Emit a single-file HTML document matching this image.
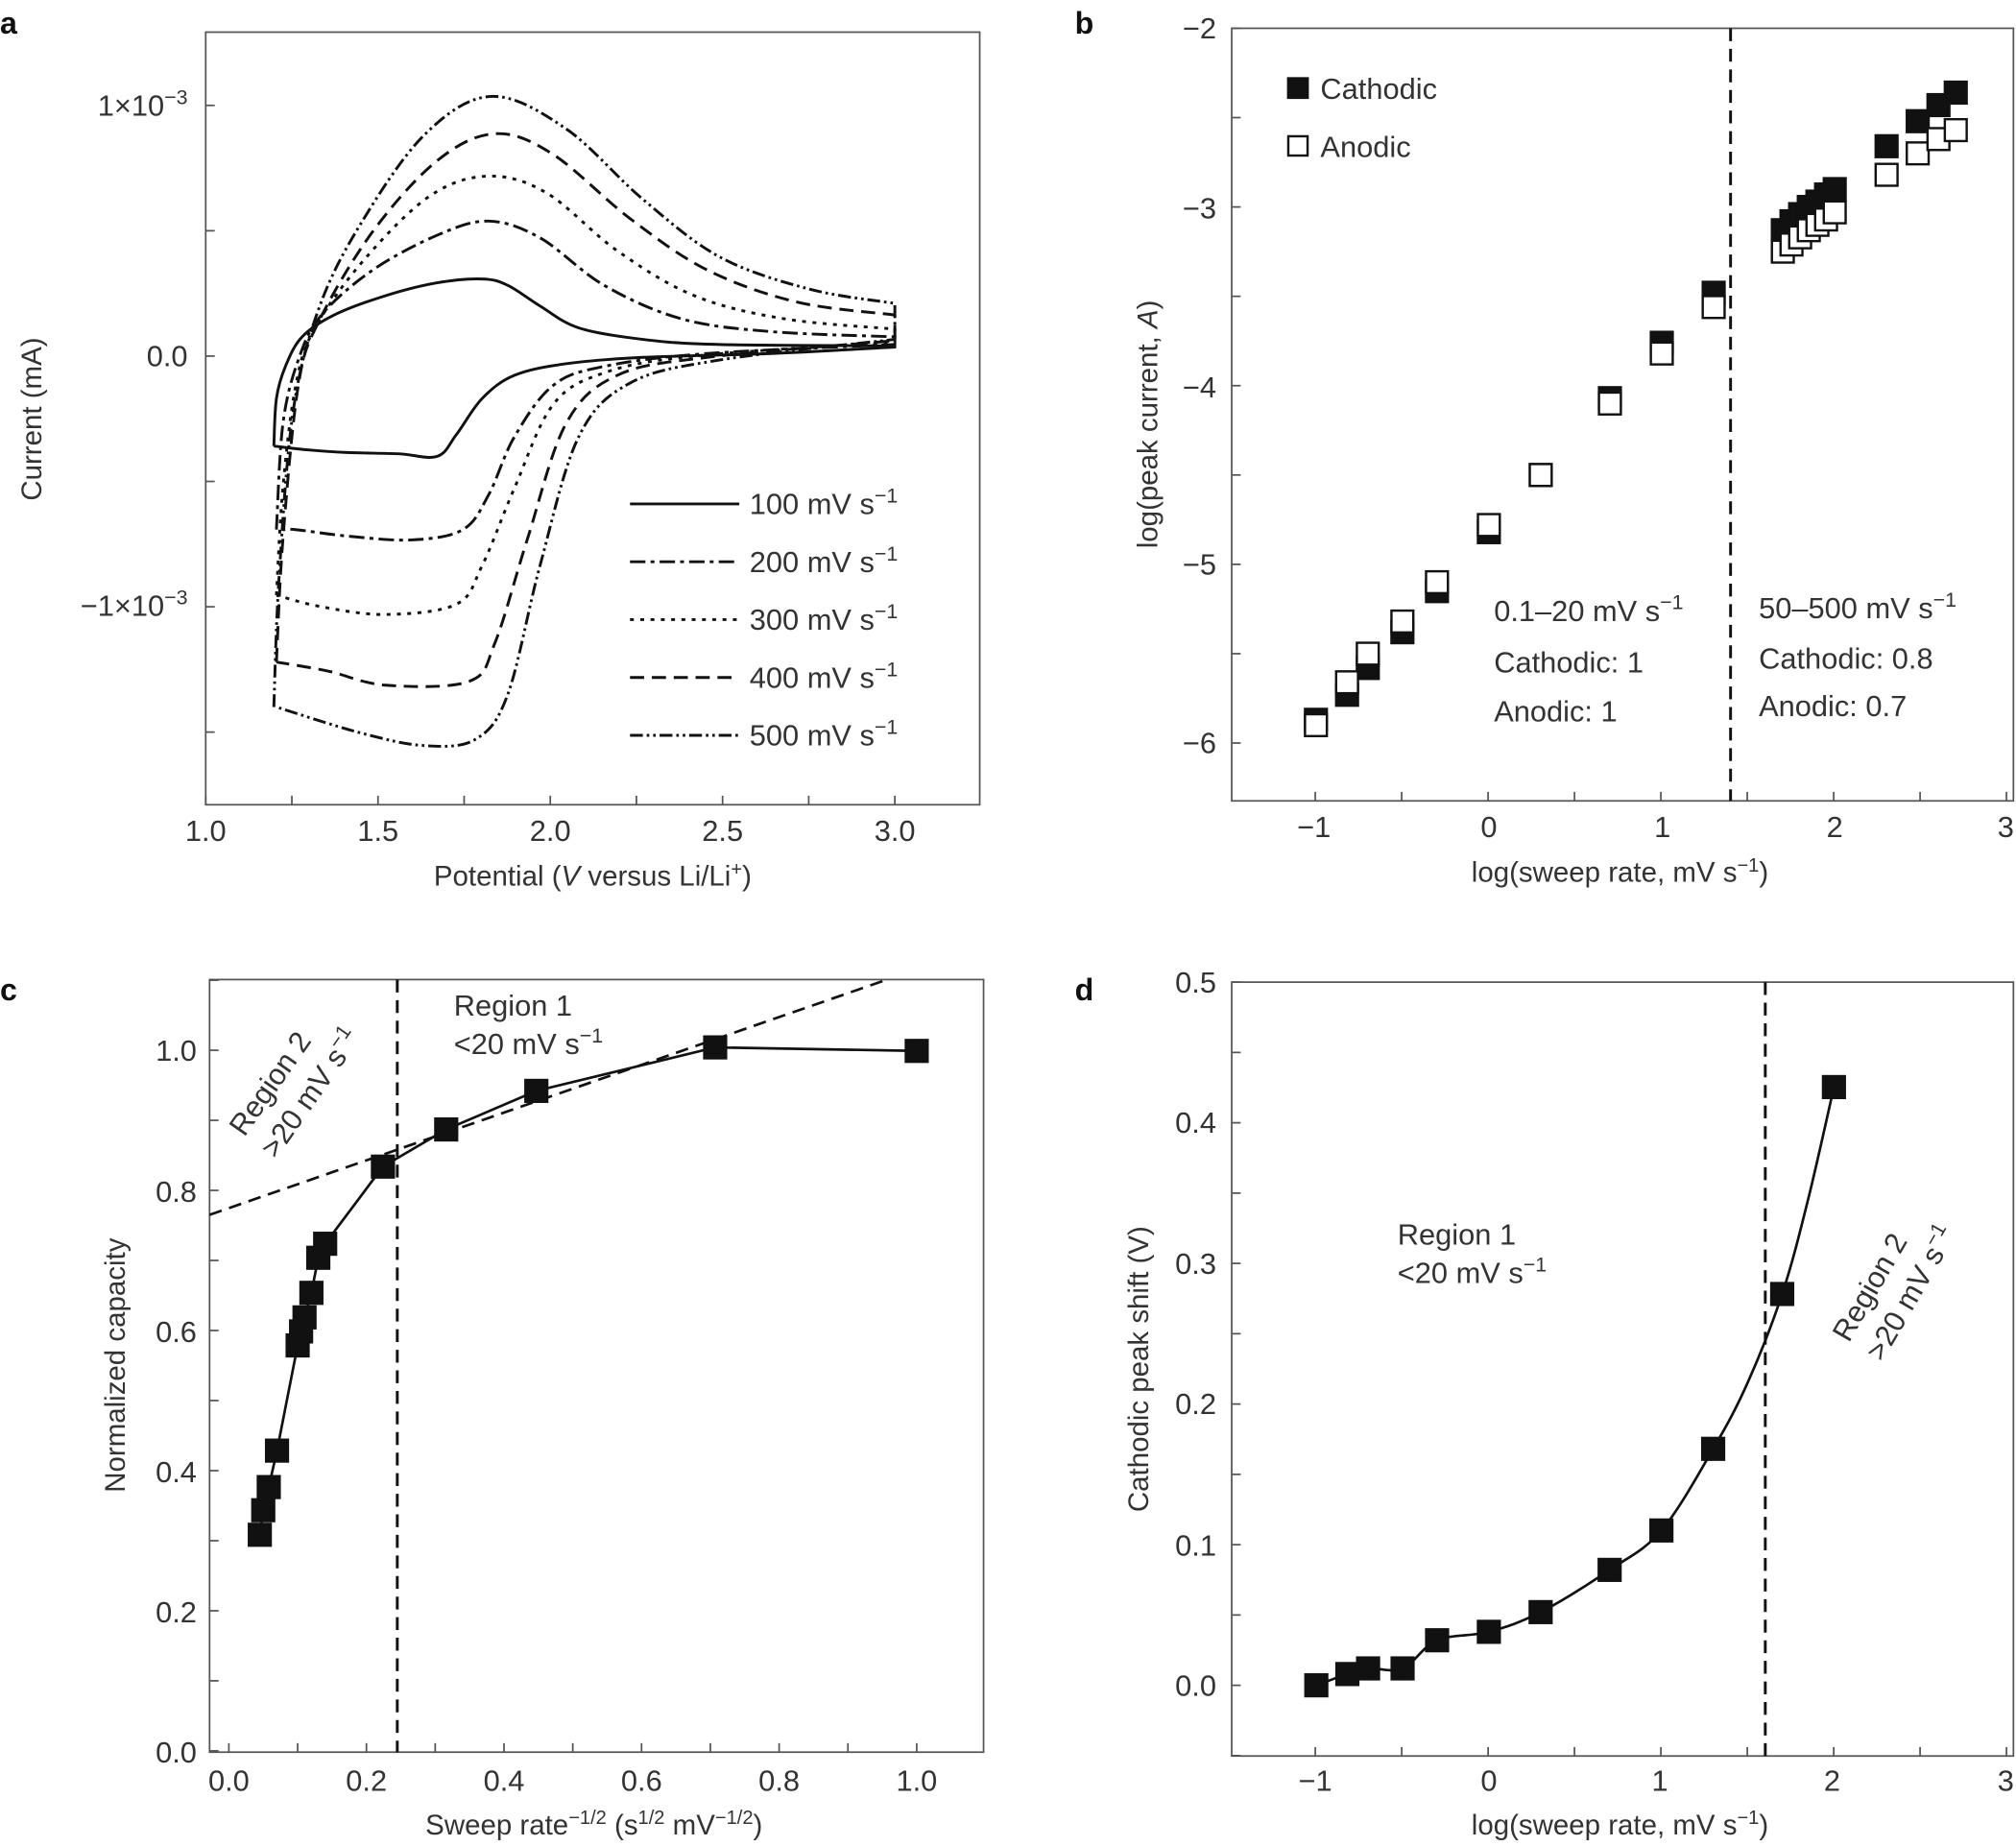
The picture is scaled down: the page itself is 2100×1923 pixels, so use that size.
<!DOCTYPE html>
<html><head><meta charset="utf-8"><style>
html,body{margin:0;padding:0;background:#fff}
svg{display:block}
text{font-family:"Liberation Sans",sans-serif;fill:#333}
</style></head><body>
<svg id="s" xmlns="http://www.w3.org/2000/svg" width="2100" height="1923" viewBox="0 0 1568 1436" preserveAspectRatio="none">
<rect width="1568" height="1436" fill="#fff"/>
<g font-size="23">
<!-- Panel a -->
<text x="0" y="26" font-weight="bold" font-size="24" style="fill:#111">a</text>
<rect x="160" y="25" width="602" height="601" fill="none" stroke="#555" stroke-width="1.3"/>
<text x="146" y="90" text-anchor="end">1×10<tspan font-size="16" dy="-9">−3</tspan></text>
<text x="146" y="285" text-anchor="end">0.0</text>
<text x="146" y="479" text-anchor="end">−1×10<tspan font-size="16" dy="-9">−3</tspan></text>
<g text-anchor="middle"><text x="160" y="654">1.0</text><text x="294" y="654">1.5</text><text x="428" y="654">2.0</text><text x="562" y="654">2.5</text><text x="696" y="654">3.0</text></g>
<text x="461" y="689" text-anchor="middle" font-size="22">Potential (<tspan font-style="italic">V</tspan> versus Li/Li<tspan font-size="15" dy="-8">+</tspan><tspan dy="8">)</tspan></text>
<text transform="translate(32,326) rotate(-90)" text-anchor="middle" font-size="22">Current (mA)</text>
<g fill="none" stroke="#111" stroke-width="2.2" stroke-linejoin="round">
<polyline class="sm" points="213,347 215,310 222,285 235,262 260,245 300,230 340,220 375,217 395,222 420,238 450,255 500,264 560,268 696,269 696,270 600,275 500,278 440,283 400,292 375,310 355,338 340,355 310,353 270,352 240,350 213,347"/>
<polyline class="sm" stroke-dasharray="12,4,3,4" points="215,412 220,330 232,280 250,245 290,210 340,183 380,172 420,185 470,222 530,248 600,258 696,262 696,268 550,275 470,285 430,300 400,340 380,385 360,412 320,420 270,417 230,412 215,412"/>
<polyline class="sm" stroke-dasharray="3,5" points="215,463 220,380 230,300 245,255 285,200 335,152 380,137 425,150 480,195 540,230 610,248 696,256 696,266 540,277 470,290 430,315 400,380 375,440 355,470 300,478 250,472 215,463"/>
<polyline class="sm" stroke-dasharray="11,6" points="215,515 220,420 232,300 248,250 290,180 340,125 385,104 430,120 490,170 550,210 620,235 696,245 696,265 550,278 480,292 440,330 410,420 385,500 365,530 300,533 255,522 215,515"/>
<polyline class="sm" stroke-dasharray="10,3,2,3,2,3" points="213,550 217,450 228,320 248,240 280,175 330,105 382,75 440,100 500,155 560,200 630,225 696,236 696,264 560,280 490,298 450,340 420,440 395,540 370,575 330,580 280,570 215,550"/>
<line x1="490" y1="392" x2="575" y2="392"/>
<line x1="490" y1="437" x2="575" y2="437" stroke-dasharray="12,4,3,4"/>
<line x1="490" y1="482" x2="575" y2="482" stroke-dasharray="3,5"/>
<line x1="490" y1="527" x2="575" y2="527" stroke-dasharray="11,6"/>
<line x1="490" y1="572" x2="575" y2="572" stroke-dasharray="10,3,2,3,2,3"/>
</g>
<g><text x="583" y="400">100 mV s<tspan font-size="16" dy="-9">−1</tspan></text><text x="583" y="445">200 mV s<tspan font-size="16" dy="-9">−1</tspan></text><text x="583" y="490">300 mV s<tspan font-size="16" dy="-9">−1</tspan></text><text x="583" y="535">400 mV s<tspan font-size="16" dy="-9">−1</tspan></text><text x="583" y="580">500 mV s<tspan font-size="16" dy="-9">−1</tspan></text></g>

<!-- Panel b -->
<text x="836" y="26" font-weight="bold" font-size="24" style="fill:#111">b</text>
<rect x="958" y="22" width="608" height="601" fill="none" stroke="#555" stroke-width="1.3"/>
<g text-anchor="end"><text x="946" y="30">−2</text><text x="946" y="170">−3</text><text x="946" y="309">−4</text><text x="946" y="447">−5</text><text x="946" y="586">−6</text></g>
<g text-anchor="middle"><text x="1022" y="651">−1</text><text x="1158" y="651">0</text><text x="1293" y="651">1</text><text x="1427" y="651">2</text><text x="1560" y="651">3</text></g>
<text x="1260" y="686" text-anchor="middle" font-size="22">log(sweep rate, mV s<tspan font-size="15" dy="-8">−1</tspan><tspan dy="8">)</tspan></text>
<text transform="translate(900,330) rotate(-90)" text-anchor="middle" font-size="22">log(peak current, <tspan font-style="italic">A</tspan>)</text>
<line x1="1346" y1="22" x2="1346" y2="623" stroke="#111" stroke-width="2.2" stroke-dasharray="10,6"/>
<rect x="1001" y="60" width="17" height="17" fill="#111"/><text x="1027" y="77">Cathodic</text>
<rect x="1002" y="106" width="15" height="15" fill="#fff" stroke="#111" stroke-width="1.8"/><text x="1027" y="122">Anodic</text>
<text x="1162" y="483">0.1–20 mV s<tspan font-size="16" dy="-9">−1</tspan></text>
<text x="1162" y="523">Cathodic: 1</text><text x="1162" y="561">Anodic: 1</text>
<text x="1368" y="481">50–500 mV s<tspan font-size="16" dy="-9">−1</tspan></text>
<text x="1368" y="520">Cathodic: 0.8</text><text x="1368" y="557">Anodic: 0.7</text>
<g id="bpts"></g>

<!-- Panel c -->
<text x="0" y="778" font-weight="bold" font-size="24" style="fill:#111">c</text>
<rect x="163" y="762" width="602" height="601" fill="none" stroke="#555" stroke-width="1.3"/>
<g text-anchor="end"><text x="153" y="825">1.0</text><text x="153" y="935">0.8</text><text x="153" y="1044">0.6</text><text x="153" y="1153">0.4</text><text x="153" y="1262">0.2</text><text x="153" y="1371">0.0</text></g>
<g text-anchor="middle"><text x="178" y="1393">0.0</text><text x="285" y="1393">0.2</text><text x="392" y="1393">0.4</text><text x="499" y="1393">0.6</text><text x="606" y="1393">0.8</text><text x="713" y="1393">1.0</text></g>
<text x="462" y="1427" text-anchor="middle" font-size="22">Sweep rate<tspan font-size="15" dy="-8">−1/2</tspan><tspan dy="8"> (s</tspan><tspan font-size="15" dy="-8">1/2</tspan><tspan dy="8"> mV</tspan><tspan font-size="15" dy="-8">−1/2</tspan><tspan dy="8">)</tspan></text>
<text transform="translate(97,1062) rotate(-90)" text-anchor="middle" font-size="22">Normalized capacity</text>
<line x1="309" y1="762" x2="309" y2="1363" stroke="#111" stroke-width="2.2" stroke-dasharray="10,6"/>
<line x1="163" y1="945" x2="690" y2="762" stroke="#111" stroke-width="2" stroke-dasharray="10,6"/>
<text x="353" y="790">Region 1</text><text x="353" y="820">&lt;20 mV s<tspan font-size="16" dy="-9">−1</tspan></text>
<g transform="translate(190,885) rotate(-55)"><text x="0" y="0">Region 2</text><text x="0" y="30">&gt;20 mV s<tspan font-size="16" dy="-9">−1</tspan></text></g>
<g id="cpts"></g>

<!-- Panel d -->
<text x="836" y="778" font-weight="bold" font-size="24" style="fill:#111">d</text>
<rect x="958" y="764" width="608" height="602" fill="none" stroke="#555" stroke-width="1.3"/>
<g text-anchor="end"><text x="946" y="772">0.5</text><text x="946" y="881">0.4</text><text x="946" y="991">0.3</text><text x="946" y="1100">0.2</text><text x="946" y="1210">0.1</text><text x="946" y="1319">0.0</text></g>
<g text-anchor="middle"><text x="1023" y="1393">−1</text><text x="1158" y="1393">0</text><text x="1291" y="1393">1</text><text x="1425" y="1393">2</text><text x="1560" y="1393">3</text></g>
<text x="1260" y="1427" text-anchor="middle" font-size="22">log(sweep rate, mV s<tspan font-size="15" dy="-8">−1</tspan><tspan dy="8">)</tspan></text>
<text transform="translate(893,1065) rotate(-90)" text-anchor="middle" font-size="22">Cathodic peak shift (V)</text>
<line x1="1373" y1="764" x2="1373" y2="1366" stroke="#111" stroke-width="2.2" stroke-dasharray="10,6"/>
<text x="1087" y="968">Region 1</text><text x="1087" y="998">&lt;20 mV s<tspan font-size="16" dy="-9">−1</tspan></text>
<g transform="translate(1438,1045) rotate(-60)"><text x="0" y="0">Region 2</text><text x="0" y="30">&gt;20 mV s<tspan font-size="16" dy="-9">−1</tspan></text></g>
<g id="dpts"></g>
</g>
<g id="ticks" stroke="#555" stroke-width="1.3"></g>
</svg>
<script>
var NS="http://www.w3.org/2000/svg";
function el(p,t,a){var e=document.createElementNS(NS,t);for(var k in a)e.setAttribute(k,a[k]);p.appendChild(e);return e;}
function sq(p,x,y,fill){el(p,"rect",{x:x-8.5,y:y-8.5,width:17,height:17,fill:fill,stroke:"#111","stroke-width":1.8});}
function smooth(P){var d="M"+P[0][0]+","+P[0][1];for(var i=0;i<P.length-1;i++){var p0=P[i-1]||P[i],p1=P[i],p2=P[i+1],p3=P[i+2]||P[i+1];
if(p1[0]==p2[0]){d+=" L"+p2[0]+","+p2[1];continue;}
if(p0[0]==p1[0])p0=p1; if(p3[0]==p2[0])p3=p2;
var c1=[p1[0]+(p2[0]-p0[0])/6,p1[1]+(p2[1]-p0[1])/6],c2=[p2[0]-(p3[0]-p1[0])/6,p2[1]-(p3[1]-p1[1])/6];
d+=" C"+c1.join(",")+" "+c2.join(",")+" "+p2.join(",");}return d;}
Array.prototype.slice.call(document.querySelectorAll("polyline.sm")).forEach(function(pl){
var P=pl.getAttribute("points").trim().split(/\s+/).map(function(s){return s.split(",").map(Number);});
var a={d:smooth(P)};var da=pl.getAttribute("stroke-dasharray");if(da)a["stroke-dasharray"]=da;
el(pl.parentNode,"path",a);pl.parentNode.removeChild(pl);});
var tk=document.getElementById("ticks");
function xt(x0,x1,step,yb,len){for(var x=x0;x<=x1+0.1;x+=step)el(tk,"line",{x1:x,y1:yb,x2:x,y2:yb-len});}
function yt(y0,y1,step,xl,len){for(var y=y0;y<=y1+0.1;y+=step)el(tk,"line",{x1:xl,y1:y,x2:xl+len,y2:y});}
xt(160,762,67,626,7);yt(82-97.5,626,97.5,160,7);
xt(1023,1566,67.2,623,7);yt(22,623,69.5,958,7);
xt(178,765,53.5,1363,7);yt(817-54.5,1363,54.5,163,7);
xt(1023,1566,67.2,1366,7);yt(764,1366,54.7,958,7);
var b=[[-1,-5.87,-5.9],[-0.82,-5.73,-5.66],[-0.7,-5.58,-5.5],[-0.5,-5.38,-5.32],[-0.3,-5.15,-5.1],[0,-4.82,-4.78],[0.3,-4.5,-4.5],[0.7,-4.07,-4.1],[1,-3.76,-3.82],[1.3,-3.48,-3.56],[1.7,-3.13,-3.25],[1.75,-3.08,-3.21],[1.8,-3.04,-3.17],[1.85,-3.0,-3.13],[1.9,-2.97,-3.1],[1.95,-2.93,-3.07],[2.0,-2.9,-3.03],[2.3,-2.66,-2.82],[2.48,-2.52,-2.7],[2.6,-2.43,-2.62],[2.7,-2.36,-2.57]];
var bg=document.getElementById("bpts");
function bx(x){return 1158+134.5*x;}function by(y){return 22+(-2-y)*139;}
b.forEach(function(d){sq(bg,bx(d[0]),by(d[1]),"#111");});
b.forEach(function(d){sq(bg,bx(d[0]),by(d[2]),"#fff");});
var c=[[0.045,0.31],[0.05,0.345],[0.058,0.378],[0.07,0.43],[0.1,0.58],[0.105,0.6],[0.11,0.62],[0.12,0.655],[0.13,0.705],[0.14,0.725],[0.224,0.835],[0.316,0.888],[0.447,0.943],[0.707,1.005],[1.0,1.0]];
var cg=document.getElementById("cpts");
var pc=c.map(function(d){return [178+535*d[0],1363-545.5*d[1]];});
el(cg,"polyline",{points:pc.map(function(p){return p.join(",");}).join(" "),fill:"none",stroke:"#111","stroke-width":2});
pc.forEach(function(p){sq(cg,p[0],p[1],"#111");});
var d=[[-1,0.0],[-0.82,0.008],[-0.7,0.012],[-0.5,0.012],[-0.3,0.032],[0,0.038],[0.3,0.052],[0.7,0.082],[1,0.11],[1.3,0.168],[1.5,0.215],[1.7,0.278],[1.85,0.345],[2,0.425]];
var dg=document.getElementById("dpts");
var pd=d.map(function(q){return [1158+134.2*q[0],1311-1095*q[1],q[0]];});
el(dg,"path",{d:smooth(pd.map(function(p){return [p[0],p[1]];})),fill:"none",stroke:"#111","stroke-width":2});
pd.forEach(function(p){if(p[2]!=1.5&&p[2]!=1.85)sq(dg,p[0],p[1],"#111");});
</script>
</body></html>
